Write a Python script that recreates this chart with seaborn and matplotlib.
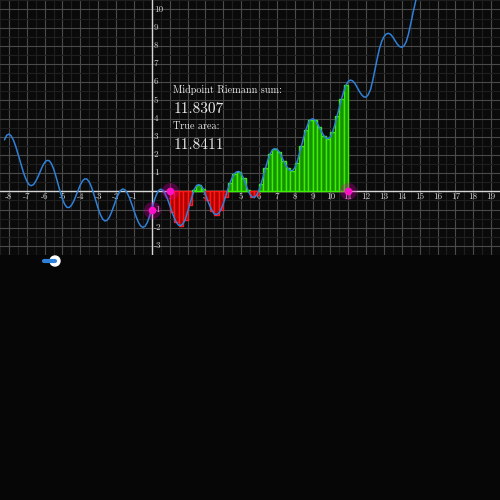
import matplotlib
matplotlib.use("Agg")
import matplotlib.pyplot as plt
from matplotlib.lines import Line2D
from matplotlib.patches import Circle
import seaborn as sns

# curve, one value every 0.125 from x = -8.25 to 15
curve_y = [2.83, 3.08,
           3.15, 3.05, 2.82, 2.49, 2.09, 1.67, 1.24, 0.86,
           0.57, 0.37, 0.31, 0.37, 0.55, 0.80, 1.09, 1.37,
           1.59, 1.70, 1.69, 1.53, 1.24, 0.85, 0.41, -0.04,
           -0.43, -0.72, -0.88, -0.89, -0.77, -0.55, -0.25, 0.06,
           0.36, 0.58, 0.69, 0.67, 0.51, 0.23, -0.14, -0.55,
           -0.95, -1.29, -1.52, -1.63, -1.59, -1.42, -1.14, -0.80,
           -0.46, -0.16, 0.05, 0.13, 0.08, -0.09, -0.36, -0.69,
           -1.06, -1.40, -1.70, -1.90, -1.98, -1.92, -1.71, -1.37,
           -0.96, -0.55, -0.20, 0.04, 0.12, 0.06, -0.13, -0.41,
           -0.75, -1.12, -1.44, -1.70, -1.86, -1.88, -1.78, -1.55,
           -1.14, -0.75, -0.30, 0.10, 0.30, 0.37, 0.31, 0.15,
           -0.15, -0.50, -0.80, -1.06, -1.24, -1.28, -1.20, -1.00,
           -0.70, -0.30, 0.08, 0.45, 0.75, 0.97, 1.07, 1.09,
           0.99, 0.74, 0.42, 0.08, -0.17, -0.31, -0.34, -0.20,
           0.04, 0.42, 0.85, 1.30, 1.72, 2.06, 2.27, 2.35,
           2.32, 2.19, 1.97, 1.68, 1.45, 1.26, 1.15, 1.13,
           1.28, 1.58, 2.00, 2.47, 2.95, 3.36, 3.72, 3.93,
           3.99, 3.93, 3.77, 3.54, 3.29, 3.07, 2.93, 2.89,
           3.00, 3.26, 3.65, 4.12, 4.60, 5.08, 5.50, 5.84,
           6.04, 6.12, 6.07, 5.93, 5.72, 5.49, 5.31, 5.19,
           5.18, 5.32, 5.60, 6.10, 6.70, 7.30, 7.85, 8.25,
           8.50, 8.65, 8.69, 8.63, 8.48, 8.28, 8.09, 7.96,
           7.92, 8.00, 8.23, 8.65, 9.20, 9.80, 10.34, 10.90,
           11.50]
curve_x = [-8.25 + 0.125 * i for i in range(len(curve_y))]

# midpoint rectangles on [1, 11], width 0.25
bar_mid = [1.125 + 0.25 * i for i in range(40)]
bar_h = [-1.12, -1.70, -1.88, -1.55, -0.75, 0.10, 0.37, 0.15, -0.50, -1.06,
         -1.28, -1.00, -0.30, 0.45, 0.97, 1.09, 0.74, 0.08, -0.31, -0.20,
         0.42, 1.30, 2.06, 2.35, 2.19, 1.68, 1.26, 1.13, 1.58, 2.47,
         3.36, 3.93, 3.93, 3.54, 3.07, 2.89, 3.26, 4.12, 5.08, 5.84]

pts_x = [0, 1, 11]
pts_y = [-1, 0, 0]

x_ticks = [v for v in range(-8, 20) if v != 0]
y_ticks = [v for v in range(-3, 11) if v != 0]

sns.set_theme(style="dark")
plt.rcParams["axes.unicode_minus"] = False

fig = plt.figure(figsize=(5, 5), dpi=100, facecolor="#060606")
ax = fig.add_axes([0, 1 - 255 / 500, 1, 255 / 500])
ax.set_facecolor("#0a0a0a")
ax.set_xlim(-8.25, 19.25)
ax.set_ylim(-3.50, 10.52)

ax.set_xticks(range(-8, 20))
ax.set_yticks(range(-3, 11))
ax.set_xticks([v + 0.5 for v in range(-9, 20)], minor=True)
ax.set_yticks([v + 0.5 for v in range(-4, 11)], minor=True)
ax.grid(which="major", color="#4a4a4a", linewidth=0.8)
ax.grid(which="minor", color="#1f1f1f", linewidth=0.8)
ax.tick_params(which="both", length=0, labelbottom=False, labelleft=False)
for s in ax.spines.values():
    s.set_visible(False)

ax.axhline(0, color="#d6d6d6", linewidth=1, zorder=2)
ax.axvline(0, color="#d6d6d6", linewidth=1, zorder=2)

fills = ["#169200" if h >= 0 else "#b00000" for h in bar_h]
edges = ["#3cf000" if h >= 0 else "#ff1a1a" for h in bar_h]
ax.bar(bar_mid, bar_h, width=0.25, color=fills, edgecolor=edges, linewidth=1, zorder=3)

sns.lineplot(x=curve_x, y=curve_y, color="#2f80d8", linewidth=1.1, ax=ax, zorder=4)

sns.scatterplot(x=pts_x, y=pts_y, s=150, color="#e000b0", alpha=0.3, linewidth=0, ax=ax, zorder=5)
sns.scatterplot(x=pts_x, y=pts_y, s=30, color="#ff10c8", linewidth=0, ax=ax, zorder=6)

for v in x_ticks:
    ax.text(v, -0.3, str(v), ha="center", va="center", fontsize=6.5, family="cmr10",
            color="#d0d0d0", zorder=2.5)
for v in y_ticks:
    ax.text(0.12, v, str(v), ha="left", va="center", fontsize=6.5, family="cmr10",
            color="#d0d0d0", zorder=2.5)

txt = "#e8e8e8"
ax.text(1.2, 5.39, "Midpoint Riemann sum:", fontsize=7.3, family="cmr10", color=txt, zorder=7)
ax.text(1.2, 4.32, "11.8307", fontsize=11, family="cmr10", color=txt, zorder=7)
ax.text(1.2, 3.43, "True area:", fontsize=7.3, family="cmr10", color=txt, zorder=7)
ax.text(1.2, 2.31, "11.8411", fontsize=11, family="cmr10", color=txt, zorder=7)

# slider below the graph
sy = 1 - 261 / 500
fig.add_artist(Line2D([44 / 500, 55 / 500], [sy, sy], transform=fig.transFigure,
                      color="#2f80d8", linewidth=3, solid_capstyle="round"))
fig.add_artist(Circle((55 / 500, sy), 5 / 500, transform=fig.transFigure, color="white"))

fig.savefig("out.png", dpi=100, facecolor=fig.get_facecolor())
